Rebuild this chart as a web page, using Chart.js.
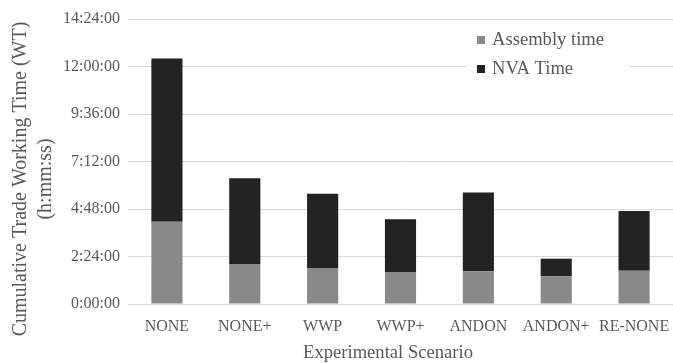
<!DOCTYPE html>
<html>
<head>
<meta charset="utf-8">
<script src="https://cdn.jsdelivr.net/npm/chart.js@4/dist/chart.umd.min.js"></script>
<style>
  html, body { margin: 0; padding: 0; background: #ffffff; }
  #wrap { width: 673px; height: 364px; }
</style>
</head>
<body>
<div id="wrap"><canvas id="chart" width="673" height="364"></canvas></div>
<script>
// Experimental scenarios on the x axis
const scenarios = ['NONE', 'NONE+', 'WWP', 'WWP+', 'ANDON', 'ANDON+', 'RE-NONE'];
// Cumulative assembly time per scenario (h:mm:ss)
const assemblyTime = ['4:09:00', '2:01:30', '1:49:30', '1:37:00', '1:39:00', '1:24:00', '1:41:00'];
// Cumulative non-value-added time per scenario (h:mm:ss)
const nvaTime = ['8:15:30', '4:20:00', '3:44:30', '2:40:00', '3:59:00', '0:53:30', '3:01:00'];
// Value-axis ticks (h:mm:ss)
const yTicks = ['0:00:00', '2:24:00', '4:48:00', '7:12:00', '9:36:00', '12:00:00', '14:24:00'];

const seriesNames = ['Assembly time', 'NVA Time'];
const yTitle = ['Cumulative Trade Working Time (WT)', '(h:mm:ss)'];
const xTitle = 'Experimental Scenario';

function toSeconds(s) {
  const p = s.split(':').map(Number);
  return p[0] * 3600 + p[1] * 60 + p[2];
}
function toClock(sec) {
  const h = Math.floor(sec / 3600);
  const m = Math.floor((sec % 3600) / 60);
  const s = Math.round(sec % 60);
  return h + ':' + String(m).padStart(2, '0') + ':' + String(s).padStart(2, '0');
}

const tickSeconds = yTicks.map(toSeconds);
const FONT = "'Liberation Serif', 'Times New Roman', serif";
const TEXT = '#595959';

// Legend overlaid in the top-right of the plot, plus the two axis titles
const overlay = {
  id: 'overlay',
  afterDraw(chart) {
    const ctx = chart.ctx;
    const a = chart.chartArea;
    ctx.save();
    ctx.fillStyle = TEXT;
    ctx.textAlign = 'center';
    ctx.textBaseline = 'middle';
    // x axis title
    ctx.font = '18.6px ' + FONT;
    ctx.fillText(xTitle, a.left + 260, 353);
    // y axis title, two lines
    ctx.save();
    ctx.font = '20px ' + FONT;
    ctx.translate(0, a.top + 160);
    ctx.rotate(-Math.PI / 2);
    ctx.fillText(yTitle[0], 0, 21);
    ctx.fillText(yTitle[1], 0, 46);
    ctx.restore();
    // legend
    ctx.font = '18.6px ' + FONT;
    const lx = a.left + 339, ly = a.top + 6;
    ctx.fillStyle = '#ffffff';
    ctx.fillRect(lx, ly, 162, 56);
    ctx.textAlign = 'left';
    chart.data.datasets.forEach((ds, i) => {
      const cy = ly + 15 + i * 29;
      ctx.fillStyle = ds.backgroundColor;
      ctx.fillRect(lx + 10, cy - 4, 8, 8);
      ctx.fillStyle = TEXT;
      ctx.fillText(ds.label, lx + 25, cy);
    });
    ctx.restore();
  }
};

function draw() {
  new Chart(document.getElementById('chart'), {
    type: 'bar',
    data: {
      labels: scenarios,
      datasets: [
        { label: seriesNames[0], data: assemblyTime.map(toSeconds), backgroundColor: '#898989' },
        { label: seriesNames[1], data: nvaTime.map(toSeconds), backgroundColor: '#232323' }
      ]
    },
    options: {
      responsive: false,
      animation: false,
      devicePixelRatio: 1,
      layout: { padding: { left: 60, right: 0, top: 19, bottom: 0 } },
      datasets: { bar: { categoryPercentage: 1, barPercentage: 0.4 } },
      plugins: { legend: { display: false }, tooltip: { enabled: false } },
      scales: {
        x: {
          stacked: true,
          grid: { display: false, drawTicks: false },
          border: { display: false },
          ticks: { color: TEXT, font: { family: FONT, size: 16 }, padding: 13, maxRotation: 0, autoSkip: false },
          afterFit(scale) { scale.height = 60; scale.paddingLeft = 0; scale.paddingRight = 0; }
        },
        y: {
          stacked: true,
          min: tickSeconds[0],
          max: tickSeconds[tickSeconds.length - 1],
          afterBuildTicks(scale) { scale.ticks = tickSeconds.map(v => ({ value: v })); },
          grid: { color: '#d9d9d9', lineWidth: 1, drawTicks: false },
          border: { display: false },
          ticks: { color: TEXT, font: { family: FONT, size: 16 }, padding: 8, callback: v => toClock(v) },
          afterFit(scale) { scale.width = 68; }
        }
      }
    },
    plugins: [overlay]
  });
}

Promise.all([
  document.fonts.load('16px "Liberation Serif"'),
  document.fonts.load('20px "Liberation Serif"')
]).then(draw, draw);
</script>
</body>
</html>
